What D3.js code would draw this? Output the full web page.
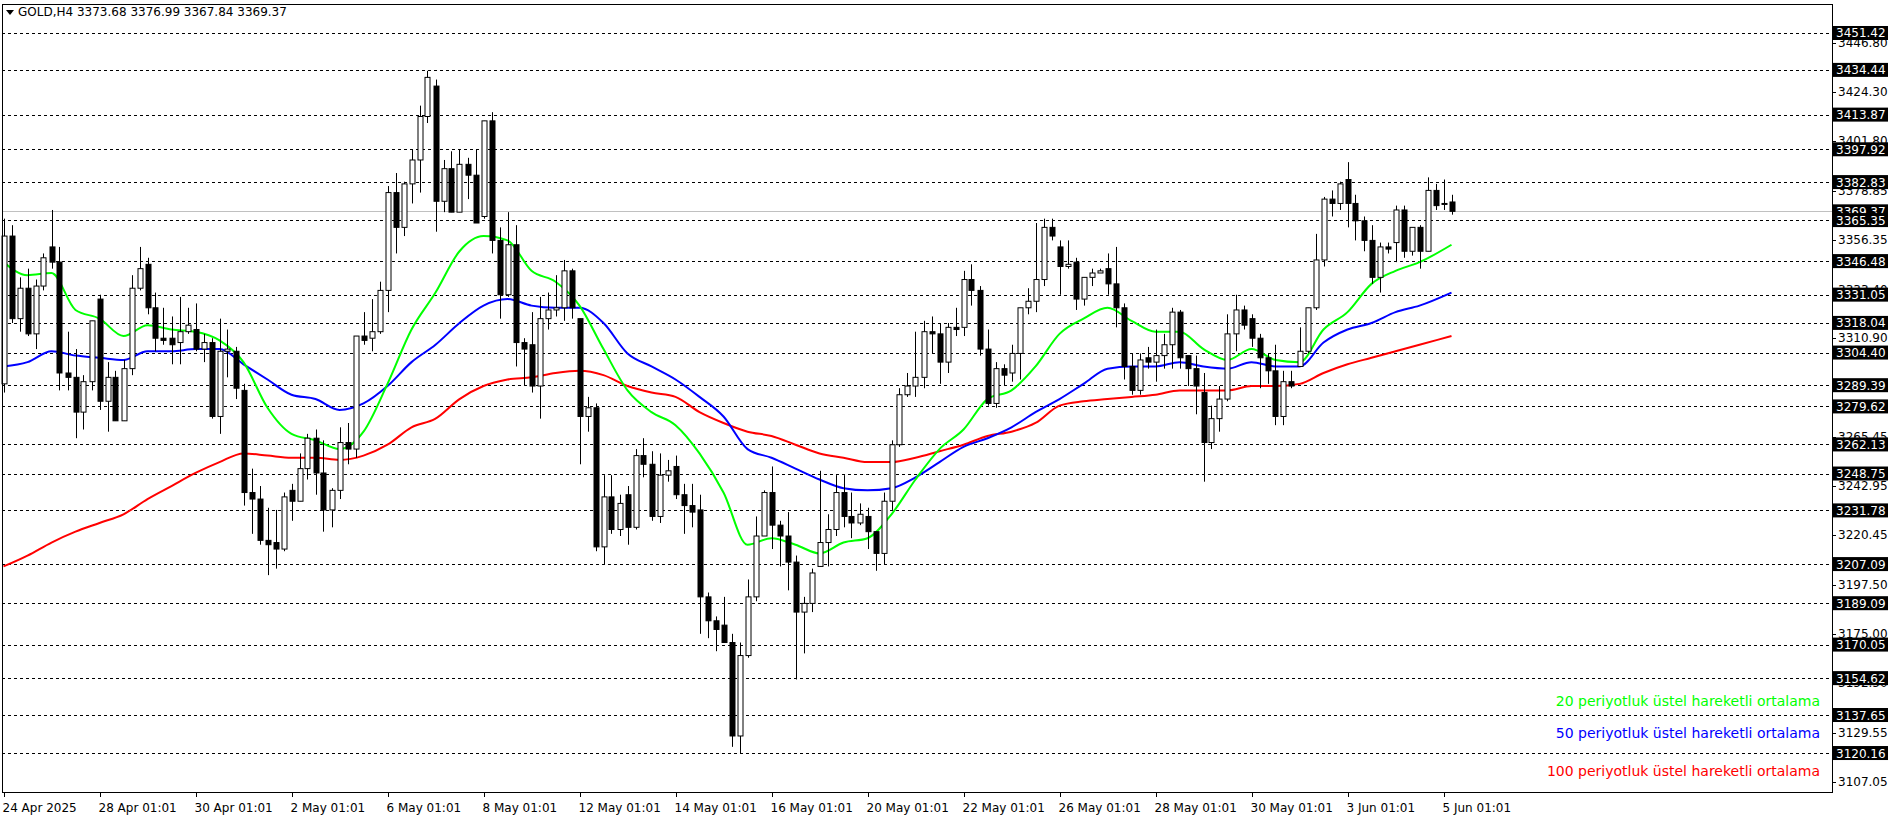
<!DOCTYPE html>
<html>
<head>
<meta charset="utf-8">
<script src="https://cdn.jsdelivr.net/npm/d3@7"></script>
<style>
  body { margin: 0; background: #fff; }
  svg { display: block; font-family: "DejaVu Sans", sans-serif; }
</style>
</head>
<body>
<svg id="chart" width="1896" height="820"></svg>
<script>
// H4 candles, 24 Apr 2025 .. 5 Jun 2025
var opens = [3290,3358,3320,3334,3313,3335,3353,3346,3295,3293,3277,3291,3329,3282,3293,3273,3297,3334,3345,3325,3311,3311,3309,3314,3315,3306,3309,3275,3305,3305,
  3287,3240,3237,3218,3217,3214,3241,3236,3251,3265,3249,3232,3241,3263,3260,3312,3311,3314,3333,3378,3362,3382,3393,3413,3427,3374,3389,3369,3391,3386,
  3367,3411,3356,3331,3354,3309,3308,3289,3320,3324,3325,3342,3320,3275,3279,3215,3238,3223,3239,3224,3257,3253,3229,3248,3252,3239,3234,3232,3192,3181,
  3179,3171,3128,3165,3192,3220,3240,3225,3220,3208,3185,3189,3206,3217,3223,3240,3229,3226,3229,3222,3212,3236,3262,3285,3289,3293,3314,3313,3300,3316,
  3316,3338,3333,3306,3281,3297,3295,3304,3325,3328,3338,3362,3353,3344,3346,3329,3339,3341,3343,3336,3325,3298,3287,3302,3300,3303,3308,3323,3303,3297,
  3286,3263,3274,3283,3313,3324,3320,3311,3302,3296,3275,3291,3298,3305,3325,3347,3375,3373,3384,3373,3365,3356,3339,3353,3355,3370,3351,3362,3351,3379,
  3373,3373.68];
var highs = [3366,3363,3339,3343,3338,3350,3370,3353,3314,3306,3294,3319,3331,3300,3296,3301,3340,3353,3348,3332,3325,3321,3330,3325,3327,3313,3311,3320,3315,3307,
  3290,3251,3243,3233,3232,3240,3244,3258,3267,3269,3264,3242,3270,3272,3312,3323,3329,3337,3381,3387,3383,3398,3418,3434,3430,3393,3397,3398,3394,3398,
  3411,3415,3362,3369,3363,3311,3323,3330,3332,3340,3347,3343,3320,3284,3281,3248,3248,3239,3243,3260,3265,3259,3258,3255,3257,3244,3244,3239,3194,3183,
  3192,3175,3171,3200,3229,3241,3252,3227,3231,3211,3192,3205,3250,3230,3248,3248,3240,3235,3233,3222,3240,3264,3288,3295,3314,3319,3321,3318,3318,3325,
  3342,3345,3335,3315,3300,3299,3308,3325,3334,3364,3366,3366,3356,3356,3348,3339,3343,3343,3350,3353,3327,3304,3304,3307,3315,3313,3325,3324,3303,3303,
  3295,3280,3289,3322,3331,3326,3322,3313,3304,3308,3296,3296,3316,3325,3359,3376,3379,3383,3392,3377,3367,3363,3355,3355,3372,3372,3362,3363,3385,3382,
  3384,3376.99];
var lows = [3286,3318,3314,3312,3306,3333,3343,3287,3287,3265,3269,3287,3278,3268,3273,3273,3294,3333,3322,3305,3308,3299,3299,3313,3305,3300,3274,3267,3293,3283,
  3234,3221,3216,3202,3205,3213,3227,3236,3246,3239,3222,3224,3237,3253,3256,3308,3305,3313,3323,3350,3358,3373,3378,3410,3360,3369,3369,3369,3375,3364,
  3366,3350,3320,3330,3298,3289,3286,3274,3315,3321,3319,3320,3253,3268,3213,3207,3221,3220,3216,3223,3247,3227,3226,3245,3237,3221,3224,3175,3173,3167,
  3171,3123,3120,3164,3190,3220,3214,3206,3195,3154,3166,3185,3206,3206,3220,3224,3219,3225,3214,3204,3207,3232,3261,3284,3284,3288,3304,3290,3295,3312,
  3312,3326,3303,3280,3279,3289,3291,3292,3322,3323,3335,3356,3331,3343,3324,3326,3335,3341,3331,3316,3292,3285,3285,3297,3291,3297,3297,3297,3289,3276,
  3245,3260,3268,3282,3305,3315,3307,3288,3290,3271,3271,3288,3298,3304,3324,3344,3367,3370,3362,3356,3351,3336,3332,3350,3346,3348,3349,3343,3351,3370,
  3370,3367.84];
var closes = [3358,3320,3334,3313,3335,3348,3346,3295,3293,3277,3291,3319,3282,3293,3273,3297,3334,3343,3325,3311,3310,3308,3314,3317,3306,3309,3275,3305,3306,3288,
  3240,3237,3218,3216,3214,3238,3236,3251,3265,3249,3232,3241,3263,3260,3312,3310,3314,3333,3378,3362,3382,3393,3413,3431,3374,3389,3369,3391,3386,3364,
  3411,3356,3331,3354,3309,3306,3289,3320,3324,3325,3342,3325,3275,3279,3215,3238,3223,3235,3224,3257,3253,3229,3248,3250,3239,3234,3231,3192,3181,3177,
  3171,3128,3165,3192,3220,3240,3225,3220,3208,3185,3189,3203,3217,3223,3240,3229,3226,3230,3222,3212,3236,3262,3285,3289,3293,3314,3313,3300,3316,3315,
  3338,3333,3306,3281,3297,3294,3304,3325,3328,3338,3362,3358,3344,3345,3329,3339,3341,3342,3336,3325,3298,3287,3301,3300,3303,3308,3323,3302,3297,3289,
  3263,3274,3283,3313,3324,3317,3311,3302,3296,3275,3291,3289,3305,3325,3347,3375,3373,3382,3373,3365,3356,3339,3353,3352,3370,3351,3362,3351,3379,3372,
  3373,3369.37];

// moving averages at these bar numbers
var maBars = [0,3,6,9,12,15,18,21,24,27,30,33,36,39,42,45,48,51,54,57,60,63,66,69,72,75,78,81,84,87,90,93,96,99,102,105,108,111,114,117,120,123,126,129,132,135,138,141,144,147,150,153,156,159,162,165,168,171,174,177,181];
var ema20 = [3346,3340,3341,3324,3320,3312,3317,3315,3314,3310,3300,3279,3267,3264,3260,3268,3290,3315,3332,3351,3358,3356,3342,3337,3326,3306,3287,3277,3271,3258,3240,3216,3219,3216,3212,3217,3219,3230,3246,3260,3269,3283,3287,3298,3313,3320,3325,3319,3314,3314,3306,3301,3306,3301,3300,3315,3323,3336,3342,3346,3354];
var ema50 = [3298,3300,3305,3303,3302,3301,3305,3305,3306,3306,3299,3292,3285,3283,3278,3281,3289,3300,3308,3318,3326,3329,3326,3325,3325,3318,3304,3298,3292,3284,3275,3260,3256,3251,3246,3242,3241,3242,3247,3254,3261,3265,3270,3277,3283,3290,3297,3298,3298,3300,3298,3297,3300,3298,3298,3309,3315,3318,3323,3326,3332];
var ema100 = [3206,3211,3217,3222,3226,3230,3237,3243,3249,3254,3258,3257,3256,3256,3255,3257,3262,3270,3274,3283,3289,3292,3293,3295,3296,3294,3289,3286,3284,3277,3272,3268,3266,3262,3258,3256,3254,3254,3256,3259,3262,3266,3268,3272,3280,3282,3283,3284,3285,3287,3287,3287,3289,3289,3290,3295,3299,3302,3305,3308,3312];

var dateBars = [0,12,24,36,48,60,72,84,96,108,120,132,144,156,168,180];
var dateLabels = ["24 Apr 2025","28 Apr 01:01","30 Apr 01:01","2 May 01:01","6 May 01:01","8 May 01:01","12 May 01:01","14 May 01:01","16 May 01:01","20 May 01:01","22 May 01:01","26 May 01:01","28 May 01:01","30 May 01:01","3 Jun 01:01","5 Jun 01:01"];
var priceTicks = [3446.80,3424.30,3401.80,3378.85,3356.35,3333.40,3310.90,3288.40,3265.45,3242.95,3220.45,3197.50,3175.00,3152.50,3129.55,3107.05];
var levels = [3451.42,3434.44,3413.87,3397.92,3382.83,3365.35,3346.48,3331.05,3318.04,3304.40,3289.39,3279.62,3262.13,3248.75,3231.78,3207.09,3189.09,3170.05,3154.62,3137.65,3120.16];
var lastPrice = 3369.37;
var legendNames = ["20 periyotluk üstel hareketli ortalama","50 periyotluk üstel hareketli ortalama","100 periyotluk üstel hareketli ortalama"];

var svg = d3.select("#chart");
var plotL = 2, plotR = 1832, plotT = 4, plotB = 792;

var x = d3.scaleLinear().domain([0, 181]).range([3.5, 1451.5]);
var y = d3.scaleLinear().domain([3102.23, 3464.76]).range([plotB, plotT]);

// dashed levels
svg.append("g").selectAll("line").data(levels).enter().append("line")
  .attr("x1", plotL).attr("x2", plotR)
  .attr("y1", function(d){ return Math.round(y(d)) + 0.5; })
  .attr("y2", function(d){ return Math.round(y(d)) + 0.5; })
  .attr("stroke", "#000").attr("stroke-dasharray", "3,3").attr("stroke-width", 1);

svg.append("line").attr("x1", plotL).attr("x2", plotR)
  .attr("y1", Math.round(y(lastPrice)) + 0.5).attr("y2", Math.round(y(lastPrice)) + 0.5)
  .attr("stroke", "#c0c0c0");

// moving averages
var mas = [[ema100, "#ff0000"], [ema50, "#0000ff"], [ema20, "#00ff00"]];
mas.forEach(function(m) {
  var line = d3.line()
    .x(function(d, i){ return x(maBars[i]); })
    .y(function(d){ return y(d); })
    .curve(d3.curveMonotoneX);
  svg.append("path").datum(m[0]).attr("d", line)
    .attr("fill", "none").attr("stroke", m[1]).attr("stroke-width", 2);
});

// candles
var candles = svg.append("g").selectAll("g").data(closes).enter().append("g");
candles.append("line")
  .attr("x1", function(d, i){ return Math.round(x(i)) + 0.5; })
  .attr("x2", function(d, i){ return Math.round(x(i)) + 0.5; })
  .attr("y1", function(d, i){ return y(highs[i]); })
  .attr("y2", function(d, i){ return y(lows[i]); })
  .attr("stroke", "#000");
candles.append("rect")
  .attr("x", function(d, i){ return Math.round(x(i)) - 2; })
  .attr("width", 5)
  .attr("y", function(d, i){ return y(Math.max(opens[i], d)); })
  .attr("height", function(d, i){ return Math.max(1, Math.abs(y(opens[i]) - y(d))); })
  .attr("fill", function(d, i){ return d >= opens[i] ? "#fff" : "#000"; })
  .attr("stroke", "#000").attr("stroke-width", 1);

// frame
svg.append("rect").attr("x", plotL + 0.5).attr("y", plotT + 0.5)
  .attr("width", plotR - plotL).attr("height", plotB - plotT)
  .attr("fill", "none").attr("stroke", "#000");

// price axis
var pt = svg.append("g").selectAll("g").data(priceTicks).enter().append("g");
pt.append("line").attr("x1", plotR).attr("x2", plotR + 4)
  .attr("y1", function(d){ return Math.round(y(d)) + 0.5; })
  .attr("y2", function(d){ return Math.round(y(d)) + 0.5; })
  .attr("stroke", "#000");
pt.append("text").attr("x", plotR + 6).attr("y", function(d){ return y(d) + 4; })
  .attr("font-size", 12).attr("fill", "#000")
  .text(function(d){ return d.toFixed(2); });

var boxes = [lastPrice].concat(levels);
var lb = svg.append("g").selectAll("g").data(boxes).enter().append("g");
lb.append("rect").attr("x", plotR + 1).attr("width", 55)
  .attr("y", function(d){ return y(d) - 7; }).attr("height", 14)
  .attr("fill", "#000");
lb.append("text").attr("x", plotR + 4).attr("y", function(d){ return y(d) + 4.5; })
  .attr("font-size", 12).attr("fill", "#fff")
  .text(function(d){ return d.toFixed(2); });

// time axis
var tg = svg.append("g").selectAll("g").data(dateBars).enter().append("g");
tg.append("line")
  .attr("x1", function(d){ return Math.round(x(d)) + 0.5; })
  .attr("x2", function(d){ return Math.round(x(d)) + 0.5; })
  .attr("y1", plotB).attr("y2", plotB + 5).attr("stroke", "#000");
tg.append("text").attr("x", function(d){ return x(d) - 1; }).attr("y", plotB + 20)
  .attr("font-size", 12).attr("fill", "#000")
  .text(function(d, i){ return dateLabels[i]; });

// header
svg.append("path").attr("d", "M6,10 L14,10 L10,15 Z").attr("fill", "#000");
svg.append("text").attr("x", 18).attr("y", 16).attr("font-size", 12).attr("fill", "#000")
  .text("GOLD,H4  3373.68 3376.99 3367.84 3369.37");

// legend
var legendColors = ["#00ff00", "#0000ff", "#ff0000"];
var legendY = [701, 733, 771];
svg.append("g").selectAll("text").data(legendNames).enter().append("text")
  .attr("x", 1820).attr("y", function(d, i){ return legendY[i] + 5; })
  .attr("text-anchor", "end").attr("font-size", 14)
  .attr("fill", function(d, i){ return legendColors[i]; })
  .text(function(d){ return d; });
</script>
</body>
</html>
